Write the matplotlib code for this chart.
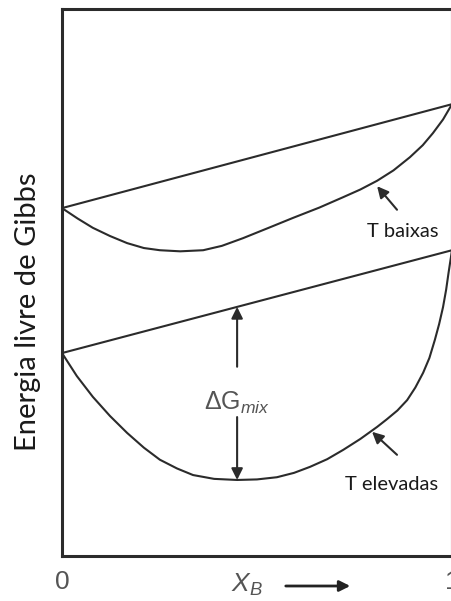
import numpy as np
import matplotlib.pyplot as plt

plt.rcParams['mathtext.fontset'] = 'custom'
plt.rcParams['mathtext.rm'] = 'Liberation Sans'
plt.rcParams['mathtext.it'] = 'Liberation Sans:italic'

# composition X_B
line_x = [0.0, 1.0]

# low temperature: straight line between pure components and mixing curve
low_line_g = [0.636, 0.826]
low_x = [0.0, 0.040, 0.079, 0.123, 0.167, 0.210, 0.251, 0.303, 0.362, 0.410, 0.464,
         0.530, 0.592, 0.660, 0.721, 0.765, 0.808, 0.850, 0.892, 0.925, 0.951, 0.977, 1.0]
low_g = [0.636, 0.617, 0.600, 0.585, 0.572, 0.563, 0.559, 0.557, 0.559, 0.567, 0.581,
         0.600, 0.618, 0.637, 0.656, 0.670, 0.686, 0.705, 0.729, 0.751, 0.773, 0.798, 0.826]

# high temperature
high_line_g = [0.371, 0.559]
high_x = [0.0, 0.038, 0.079, 0.123, 0.167, 0.210, 0.251, 0.295, 0.336, 0.390, 0.449,
          0.500, 0.551, 0.595, 0.636, 0.680, 0.721, 0.765, 0.808, 0.833, 0.860, 0.885,
          0.906, 0.926, 0.942, 0.956, 0.967, 0.977, 0.985, 0.991, 1.0]
high_g = [0.371, 0.329, 0.291, 0.256, 0.225, 0.198, 0.176, 0.160, 0.148, 0.141, 0.139,
          0.140, 0.144, 0.152, 0.163, 0.177, 0.194, 0.214, 0.236, 0.250, 0.266, 0.285,
          0.308, 0.335, 0.362, 0.395, 0.424, 0.455, 0.487, 0.517, 0.559]

xticks = [0, 1]
xtick_labels = ['0', '1']

ink = '#2b2b2b'
grey = '#555555'

fig = plt.figure(figsize=(4.51, 6.01), dpi=100)
ax = fig.add_axes([62/451, 45/601, 390/451, 547/601])

ax.plot(line_x, low_line_g, color=ink, lw=1.5, solid_capstyle='round')
ax.plot(low_x, low_g, color=ink, lw=1.5, solid_joinstyle='round')
ax.plot(line_x, high_line_g, color=ink, lw=1.5, solid_capstyle='round')
ax.plot(high_x, high_g, color=ink, lw=1.5, solid_joinstyle='round')

ax.set_xlim(0, 1)
ax.set_ylim(0, 1)
for side in ['left', 'bottom', 'top', 'right']:
	ax.spines[side].set_linewidth(2.2)
	ax.spines[side].set_color(ink)
ax.set_xticks(xticks)
ax.set_xticklabels(xtick_labels, fontsize=19, color=grey, family='Liberation Sans')
ax.tick_params(axis='x', length=0, pad=10)
ax.set_yticks([])

ax.set_ylabel('Energia livre de Gibbs', fontsize=21, family='Lato', color='#1a1a1a')
ax.yaxis.set_label_coords(-0.054, 0.446)

# Delta G_mix between the line and the curve minimum
xm = high_x[int(np.argmin(high_g))]
g_line = high_line_g[0] + (high_line_g[1] - high_line_g[0]) * xm
g_min = min(high_g)
arrow = dict(arrowstyle='-|>', color=ink, lw=1.5, mutation_scale=17, shrinkA=0, shrinkB=0)
ax.annotate('', xy=(xm, g_line), xytext=(xm, 0.346), arrowprops=arrow)
ax.annotate('', xy=(xm, g_min), xytext=(xm, 0.254), arrowprops=arrow)
ax.text(xm, 0.280, r'$\Delta\mathrm{G}_{mix}$', fontsize=18, color=grey,
		ha='center', va='center')

# curve labels
ax.annotate('', xy=(0.808, 0.676), xytext=(0.859, 0.633), arrowprops=arrow)
ax.text(0.874, 0.594, 'T baixas', fontsize=14.5, family='Lato', color='#1a1a1a',
		ha='center', va='center')
ax.annotate('', xy=(0.795, 0.227), xytext=(0.859, 0.185), arrowprops=arrow)
ax.text(0.846, 0.130, 'T elevadas', fontsize=14.5, family='Lato', color='#1a1a1a',
		ha='center', va='center')

# axis title with direction arrow
fig.text(247/451, 1 - 585/601, r'$\mathit{X_B}$', fontsize=19, color=grey,
		 ha='center', va='center')
fig.patches.append(plt.matplotlib.patches.FancyArrowPatch(
	(283/451, 1 - 586/601), (353/451, 1 - 586/601), transform=fig.transFigure,
	arrowstyle='-|>', mutation_scale=16, lw=2.0, color='#222222'))

fig.savefig('out.png', dpi=100)
